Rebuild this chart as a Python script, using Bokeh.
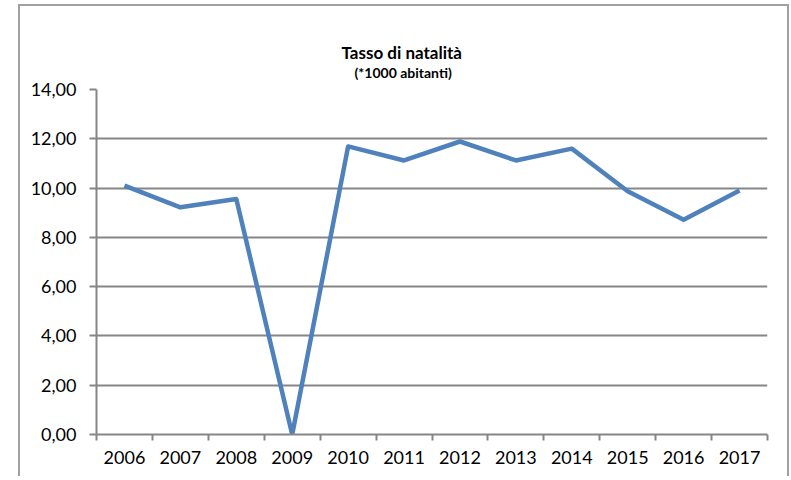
from bokeh.plotting import figure
from bokeh.models import FixedTicker, Range1d, Title, ColumnDataSource
from bokeh.embed import file_html
from bokeh.resources import INLINE

years = ["2006", "2007", "2008", "2009", "2010", "2011", "2012", "2013", "2014", "2015", "2016", "2017"]
rate = [10.1, 9.22, 9.56, 0.0, 11.69, 11.12, 11.89, 11.12, 11.6, 9.87, 8.71, 9.9]
y_ticks = [0, 2, 4, 6, 8, 10, 12, 14]
y_labels = ["0,00", "2,00", "4,00", "6,00", "8,00", "10,00", "12,00", "14,00"]
title_text = "Tasso di natalità"
subtitle_text = "(*1000 abitanti)"

FONT = "Lato"
GRID = "#868686"
FRAME = "2px solid #a0a0a0"

xpos = [i + 0.5 for i in range(len(years))]
src = ColumnDataSource(dict(x=xpos, y=rate, year=years))

p = figure(width=771, height=472, output_backend="svg", toolbar_location=None,
           x_range=Range1d(0, len(years)), y_range=Range1d(0, 14),
           min_border_left=76, min_border_right=24, min_border_top=83, min_border_bottom=44,
           margin=(4, 0, 0, 18),
           styles={"border-top": FRAME, "border-left": FRAME, "border-right": FRAME,
                   "box-sizing": "border-box"})
p.title.visible = False

sub = Title(text=subtitle_text, align="left", text_font=FONT, text_font_size="14px",
            text_font_style="bold", text_color="#000000", offset=258, standoff=17)
main = Title(text=title_text, align="left", text_font=FONT, text_font_size="17px",
             text_font_style="bold", text_color="#000000", offset=245, standoff=-18)
p.add_layout(sub, "above")
p.add_layout(main, "above")

p.line("x", "y", source=src, line_color="#4F81BD", line_width=4.5, line_join="round")

p.outline_line_color = None
p.xgrid.grid_line_color = None
p.ygrid.grid_line_color = GRID
p.ygrid.grid_line_width = 2
p.ygrid.ticker = FixedTicker(ticks=y_ticks)

p.yaxis.ticker = FixedTicker(ticks=y_ticks, minor_ticks=[])
p.yaxis.major_label_overrides = {t: l for t, l in zip(y_ticks, y_labels)}
p.yaxis.major_tick_out = 7
p.yaxis.major_tick_in = 0
p.yaxis.minor_tick_out = 0
p.yaxis.minor_tick_in = 0
p.yaxis.major_label_standoff = 13

p.xaxis.ticker = FixedTicker(ticks=xpos, minor_ticks=list(range(len(years) + 1)))
p.xaxis.major_label_overrides = {x: y for x, y in zip(xpos, years)}
p.xaxis.major_tick_out = 0
p.xaxis.major_tick_in = 0
p.xaxis.minor_tick_out = 6
p.xaxis.minor_tick_in = 0
p.xaxis.major_label_standoff = 10

for ax in (p.xaxis, p.yaxis):
    ax.axis_line_color = GRID
    ax.axis_line_width = 2
    ax.major_tick_line_color = GRID
    ax.major_tick_line_width = 2
    ax.minor_tick_line_color = GRID
    ax.minor_tick_line_width = 2
    ax.major_label_text_font = FONT
    ax.major_label_text_font_size = "18px"
    ax.major_label_text_color = "#000000"

p.background_fill_color = "white"
p.border_fill_color = "white"

open("out.html", "w").write(file_html(p, INLINE))
